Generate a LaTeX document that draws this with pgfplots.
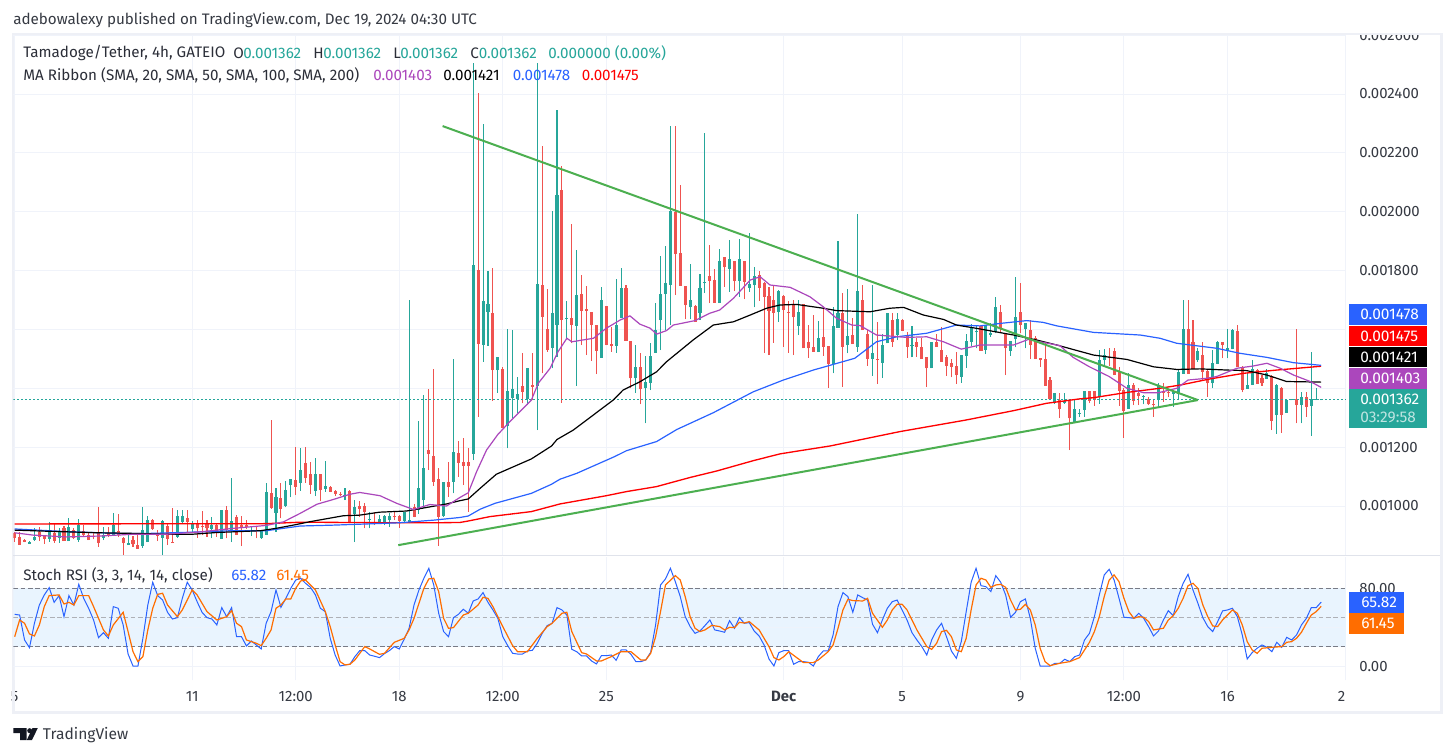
\documentclass[border=0pt]{standalone}
\usepackage{pgfplots}
\usepackage{pgfplotstable}
\usepackage{fontspec}
\setmainfont{Fira Sans}
\pgfplotsset{compat=1.18}
\definecolor{upc}{HTML}{26A69A}
\definecolor{downc}{HTML}{EF5350}
\definecolor{gridc}{HTML}{F0F3FA}
\definecolor{framec}{HTML}{EEF0F6}
\definecolor{sepc}{HTML}{E0E3EB}
\definecolor{txt}{HTML}{131722}
\definecolor{mablue}{HTML}{2962FF}
\definecolor{mapurple}{HTML}{AB47BC}
\definecolor{trendc}{HTML}{4CAF50}
\definecolor{orangeD}{HTML}{FF6D00}
\definecolor{bandc}{HTML}{E9F4FE}
\definecolor{dashc}{HTML}{787B86}
% prices are in millionths of USDT (1362 = 0.001362); x is the candle number from 5 Nov 00:00
\pgfplotstableread{
x o h l c
3 872 880 871 878
4 884 924 882 896
7 888 945 878 918
9 892 925 875 913
11 881 959 881 928
13 885 955 879 935
18 892 928 884 901
20 900 975 898 935
23 867 900 867 873
26 865 996 858 918
27 877 967 877 952
30 892 952 834 949
33 896 986 892 966
34 944 988 939 966
36 922 949 913 939
40 922 962 891 935
42 889 988 889 988
44 916 1095 877 948
48 927 932 899 932
50 891 918 889 916
51 902 1078 901 1047
53 977 1060 913 1030
55 1000 1084 995 1054
56 1071 1092 1029 1092
58 1079 1197 1052 1122
61 1051 1162 1034 1109
63 1058 1153 1049 1068
67 1035 1061 1020 1039
69 974 1020 877 998
72 953 979 924 956
74 941 971 940 956
75 941 969 935 966
76 952 975 930 966
79 948 981 941 981
80 947 1700 941 952
82 986 1290 973 1061
83 1020 1377 992 1129
87 966 1083 964 1083
89 1083 1499 1043 1183
93 1177 2505 1156 1819
95 1547 2298 1490 1697
96 1660 1798 1544 1686
98 1462 1507 1385 1505
100 1272 1600 1196 1391
101 1366 1598 1298 1398
102 1363 1440 1315 1379
104 1362 1468 1343 1468
106 1408 2505 1258 1754
109 1538 2002 1468 1655
110 1615 2346 1507 2057
112 1636 1698 1566 1640
114 1612 1870 1408 1717
119 1504 1743 1504 1700
122 1544 1770 1521 1615
123 1638 1808 1638 1740
126 1434 1547 1385 1471
128 1400 1510 1281 1422
129 1419 1553 1394 1510
130 1521 1689 1521 1598
131 1632 1849 1530 1720
132 1720 1883 1598 1757
133 1751 2291 1615 2002
137 1675 1822 1634 1700
139 1657 1790 1632 1740
140 1757 2269 1723 1762
143 1689 1875 1689 1832
145 1807 1904 1728 1841
147 1766 1906 1711 1841
149 1742 1926 1728 1754
150 1751 1811 1675 1781
155 1660 1734 1626 1732
159 1612 1700 1581 1660
163 1523 1629 1523 1572
166 1482 1675 1451 1612
167 1606 1900 1606 1657
169 1547 1736 1519 1578
171 1541 1992 1524 1731
174 1501 1751 1443 1521
176 1487 1583 1436 1546
177 1553 1655 1553 1655
179 1581 1657 1564 1635
182 1543 1612 1505 1547
186 1468 1558 1468 1558
192 1439 1513 1419 1513
193 1511 1583 1470 1561
194 1558 1618 1544 1604
195 1590 1610 1536 1596
197 1530 1615 1516 1615
198 1582 1623 1575 1589
199 1592 1710 1587 1675
202 1528 1562 1511 1561
203 1566 1777 1539 1641
205 1600 1623 1536 1623
211 1354 1383 1347 1383
213 1351 1385 1348 1357
215 1281 1360 1281 1328
216 1312 1328 1304 1316
217 1326 1391 1304 1391
220 1369 1530 1347 1496
221 1496 1533 1479 1513
226 1330 1451 1330 1411
229 1371 1377 1345 1374
232 1360 1417 1332 1411
235 1381 1388 1338 1386
236 1381 1464 1360 1456
237 1449 1700 1449 1601
240 1496 1536 1490 1527
243 1417 1530 1400 1485
244 1483 1561 1483 1558
246 1528 1600 1502 1536
247 1532 1600 1532 1598
250 1398 1451 1398 1411
251 1411 1496 1411 1464
254 1432 1464 1432 1451
256 1309 1415 1245 1411
258 1317 1360 1317 1360
259 1359 1362 1359 1362
261 1343 1386 1281 1369
263 1340 1524 1239 1362
264 1360 1400 1360 1363
265 1360 1363 1360 1363
}\upT
\pgfplotstableread{
x o h l c
0 909 913 879 892
1 894 913 867 867
2 883 887 876 879
5 911 928 881 893
6 900 901 872 888
8 908 938 875 881
10 924 932 881 881
12 918 924 887 892
14 916 935 896 901
15 900 910 884 884
16 897 913 887 893
17 907 996 862 874
19 909 928 896 898
21 914 973 896 900
22 891 896 834 874
24 884 898 862 870
25 867 905 855 855
28 952 956 918 922
29 907 918 881 899
31 932 938 867 888
32 877 993 874 874
35 958 986 913 944
37 941 952 892 924
38 932 983 901 927
39 939 952 896 924
41 935 938 896 909
43 986 1000 890 918
45 962 969 901 902
46 935 966 864 930
47 934 952 922 927
49 932 933 890 927
52 1043 1292 990 992
54 1027 1079 958 990
57 1088 1200 1037 1066
59 1145 1200 1079 1095
60 1109 1149 1041 1072
62 1109 1109 1017 1054
64 1064 1068 1047 1049
65 1051 1054 1034 1041
66 1041 1046 1033 1037
68 1051 1053 941 943
70 1000 1018 964 990
71 1000 1011 924 981
73 943 978 935 940
77 966 979 952 962
78 966 969 926 948
81 998 1007 961 964
84 1190 1398 1122 1176
85 1170 1464 1068 1082
86 1092 1128 865 964
88 1083 1149 1031 1066
90 1180 1222 1099 1147
91 1149 1230 1071 1136
92 1149 1196 980 1136
94 1802 2404 1303 1550
97 1655 1808 1358 1462
99 1464 1473 1266 1266
103 1408 1519 1349 1388
105 1410 1519 1360 1406
107 1751 2223 1451 1643
108 1600 1736 1524 1530
111 2074 2155 1351 1632
113 1638 1958 1553 1615
115 1719 1785 1547 1664
116 1668 1748 1513 1664
117 1660 1660 1493 1615
118 1615 1615 1448 1527
120 1680 1680 1547 1547
121 1549 1609 1524 1545
124 1740 1751 1561 1561
125 1561 1561 1400 1434
127 1471 1519 1345 1396
134 2000 2291 1717 1856
135 1859 2091 1748 1748
136 1748 1748 1634 1683
138 1680 1683 1626 1626
141 1781 1887 1689 1766
142 1768 1804 1691 1691
144 1847 1847 1745 1811
146 1834 1834 1730 1764
148 1834 1834 1702 1762
151 1785 1800 1698 1742
152 1759 1762 1521 1711
153 1713 1745 1513 1664
154 1700 1748 1555 1657
156 1714 1717 1541 1666
157 1660 1697 1520 1656
158 1686 1700 1513 1641
160 1686 1686 1536 1536
161 1558 1615 1504 1536
162 1540 1649 1524 1524
164 1574 1677 1510 1541
165 1544 1544 1402 1482
168 1657 1723 1405 1541
170 1581 1638 1550 1550
172 1700 1751 1598 1598
173 1584 1598 1476 1501
175 1500 1626 1415 1496
178 1632 1655 1541 1558
180 1632 1634 1596 1596
181 1578 1590 1504 1541
183 1557 1570 1507 1541
184 1541 1572 1499 1499
185 1505 1507 1405 1468
187 1558 1583 1541 1541
188 1530 1609 1490 1490
189 1507 1513 1443 1477
190 1486 1498 1437 1473
191 1477 1524 1415 1445
196 1612 1612 1528 1528
200 1659 1683 1592 1600
201 1583 1583 1445 1536
204 1658 1757 1587 1615
206 1598 1632 1500 1547
207 1570 1578 1499 1499
208 1502 1502 1473 1496
209 1498 1553 1409 1409
210 1428 1437 1362 1362
212 1360 1383 1300 1330
214 1358 1360 1190 1298
218 1391 1391 1349 1358
219 1391 1391 1340 1360
222 1506 1536 1476 1502
223 1527 1536 1445 1445
224 1456 1473 1340 1391
225 1394 1400 1232 1324
227 1411 1417 1343 1358
228 1385 1400 1343 1375
230 1362 1372 1343 1345
231 1347 1362 1304 1343
233 1388 1417 1355 1385
234 1386 1394 1369 1383
238 1601 1700 1449 1449
239 1558 1632 1464 1464
241 1513 1556 1428 1456
242 1460 1466 1372 1417
245 1556 1558 1502 1547
248 1595 1615 1473 1473
249 1473 1476 1386 1394
252 1462 1464 1415 1415
253 1436 1445 1408 1417
255 1443 1445 1258 1290
257 1400 1403 1249 1309
260 1362 1602 1281 1343
262 1369 1386 1304 1338
}\downT
\pgfplotsset{
  wick/.style={draw=none,mark=none,forget plot,error bars/.cd,y dir=plus,y explicit,error mark=none,error bar style={line width=0.8pt,color=#1}},
  body/.style={draw=none,mark=none,forget plot,error bars/.cd,y dir=plus,y explicit,error mark=none,error bar style={line width=2.3pt,color=#1}},
  pane/.style={scale only axis,anchor=south west,width=999.75pt,xmin=-0.284,xmax=270.1,
    axis line style={draw=none},major tick length=0pt,grid=both,grid style={color=gridc,line width=0.75pt},
    xtick={0,36,57,78,99,120,156,180,204,225,246,270},
    tick label style={font=\fontsize{11.2}{13}\selectfont,text=txt!85},
    yticklabel pos=right,
    yticklabel style={anchor=west,xshift=9.6pt,inner xsep=0pt}},
}
\newcommand{\pricetag}[6]{\fill[#1] (1349.3,#2) rectangle (#5,#3);\node[anchor=west,inner sep=0pt,text=white,font=\fontsize{11.6}{13}\selectfont] at (#6,{(#2+#3)/2}) {#4};}
\begin{document}
\begin{tikzpicture}[x=0.75pt,y=-0.75pt]
\useasboundingbox (0,0) rectangle (1453,756);
\fill[white] (0,0) rectangle (1453,756);
\fill[framec] (12,33) rectangle (1443,713.5);
\fill[white] (15,35.5) rectangle (1440,711);
% ---------- price pane
\begin{axis}[pane,at={(9.975pt,-416.25pt)},height=390pt,ymin=833.5,ymax=2600.5,
  xticklabels={},
  ytick={1000,1200,1400,1600,1800,2000,2200,2400,2600},
  yticklabels={0.001000,0.001200,{},{},0.001800,0.002000,0.002200,0.002400,0.002600}]
\addplot[wick=upc] table[x=x,y=l,y error expr=\thisrow{h}-\thisrow{l}] {\upT};
\addplot[wick=downc] table[x=x,y=l,y error expr=\thisrow{h}-\thisrow{l}] {\downT};
\addplot[body=upc] table[x=x,y=o,y error expr=\thisrow{c}-\thisrow{o}] {\upT};
\addplot[body=downc] table[x=x,y=c,y error expr=\thisrow{o}-\thisrow{c}] {\downT};
% last price
\addplot[upc,line width=0.75pt,dash pattern=on 1pt off 2pt] coordinates {(-0.3,1362)(270.1,1362)};
% SMA 200
\addplot[red,line width=1pt] coordinates {(0,939)(51,940)(58,945)(78,943)(85,943)(90.3,944)(92,949)(96.4,964)(104.8,981)(110.6,1007)(120,1035)(124.1,1049)(130.2,1066)(137,1097)(142.4,1119)(149.8,1154)(155.2,1177)(159.3,1188)(165.4,1204)(179.6,1253)(192.9,1292)(202.6,1324)(209.3,1349)(212,1355)(216,1364)(218.8,1368)(225.6,1386)(232.3,1400)(236.4,1411)(242.5,1432)(249.3,1451)(256,1462)(265,1475)};
% SMA 100
\addplot[mablue,line width=0.9pt] coordinates {(0,922)(10.5,913)(20.7,907)(27.5,907)(34,910)(44,916)(51,916)(57.9,932)(64.6,935)(71.4,939)(78,943)(85,952)(90.3,961)(92,966)(94.4,989)(97.4,1009)(104.8,1043)(108.9,1074)(110.6,1091)(114,1111)(121.7,1168)(124.1,1188)(130.2,1219)(134.3,1260)(141.7,1317)(149.8,1388)(155.9,1428)(159.3,1447)(162,1462)(170.4,1502)(174.8,1558)(178.9,1575)(185,1587)(191,1615)(195.8,1612)(200.2,1621)(205.3,1630)(208.6,1624)(211.4,1612)(218.8,1590)(228.3,1581)(232.3,1570)(235.7,1553)(243.8,1536)(248.5,1519)(254,1505)(259.4,1487)(265,1478)};
% SMA 50
\addplot[black,line width=0.9pt] coordinates {(0,918)(7.2,914)(17,909)(24,907)(30.8,904)(36,904)(41,910)(49.8,916)(53,924)(56.5,935)(60,947)(66.7,967)(70,969)(74,979)(79.5,983)(84.2,997)(87.6,1007)(90.3,1018)(92,1024)(94.4,1060)(97.7,1108)(104.8,1160)(108.9,1204)(110,1226)(113.3,1258)(121.4,1360)(123.4,1394)(126.8,1422)(130.2,1456)(132.2,1490)(137.6,1564)(141.7,1615)(145.8,1626)(149.2,1649)(152.5,1672)(155.2,1683)(158.6,1685)(164,1672)(166.7,1664)(173.5,1660)(177.5,1672)(180.3,1675)(184.3,1649)(188.4,1634)(191,1615)(195,1604)(202.6,1581)(207.3,1564)(211.4,1547)(218.8,1513)(225.6,1498)(231,1473)(235.7,1464)(240.4,1466)(245.9,1462)(249.9,1460)(254,1445)(258,1423)(265,1421)};
% SMA 20
\addplot[mapurple,line width=0.9pt] coordinates {(0,909)(3.8,901)(10.5,895)(17.3,898)(24,904)(30.8,904)(37.6,912)(44.3,924)(51,934)(54.5,946)(57.9,975)(61.3,1006)(64.6,1022)(68,1040)(70,1046)(74.1,1035)(77.5,1009)(80.9,988)(84.2,1005)(87.6,1000)(90.3,1029)(92,1045)(93.7,1117)(95.7,1190)(98,1243)(100.4,1286)(104.8,1360)(106.2,1417)(108.6,1468)(110.2,1524)(112,1570)(113,1558)(117.4,1570)(120,1604)(122.8,1632)(124.8,1646)(126.8,1618)(128.9,1604)(130.2,1584)(132.2,1596)(133.6,1615)(138,1630)(141,1655)(143,1666)(145.8,1706)(149.2,1768)(151.2,1779)(153.2,1751)(157.3,1743)(161.3,1711)(164,1677)(166.7,1638)(169.8,1615)(171.5,1613)(174.8,1581)(180.9,1573)(185,1575)(188.4,1558)(190.4,1544)(192,1533)(195.8,1547)(199.2,1547)(202.6,1547)(205.6,1566)(208,1558)(212,1545)(214.7,1505)(218,1473)(222,1440)(225.6,1400)(229,1385)(232,1385)(235.7,1400)(238,1428)(241.8,1434)(243.8,1440)(247.9,1468)(251.3,1476)(254,1485)(256.7,1468)(259.4,1445)(262.8,1423)(265,1403)};
% trend lines
\addplot[trendc,line width=1.5pt] coordinates {(86.8,2291)(240,1360)};
\addplot[trendc,line width=1.5pt] coordinates {(77.8,867)(240,1360)};
\end{axis}
% ---------- Stoch RSI pane
\begin{axis}[pane,at={(9.975pt,-510pt)},height=92.25pt,ymin=-14.05,ymax=112.1,
  xticklabels={5,11,12:00,18,12:00,25,\textbf{Dec},5,9,12:00,16,20},
  xticklabel style={yshift=-4.5pt,text height=8pt,text depth=0pt},
  ytick={0,40,80},yticklabels={0.00,{},80.00}]
\addplot[bandc,fill=bandc,draw=none] coordinates {(-0.3,20)(270.1,20)(270.1,80)(-0.3,80)} -- cycle;
\addplot[gridc!70!bandc,line width=0.75pt] coordinates {(-0.3,40)(270.1,40)};
\addplot[dashc,line width=0.75pt,dash pattern=on 3.5pt off 2pt] coordinates {(-0.3,80)(270.1,80)};
\addplot[dashc!60,line width=0.75pt,dash pattern=on 3.5pt off 2pt] coordinates {(-0.3,50)(270.1,50)};
\addplot[dashc,line width=0.75pt,dash pattern=on 3.5pt off 2pt] coordinates {(-0.3,20)(270.1,20)};
\addplot[mablue,line width=0.75pt] coordinates {(0,53.3)(1,52.6)(2,27)(3,19.1)(4,44.1)(5,62.9)(6,73.2)(7,80.7)(8,65.6)(9,72.5)(10,50.9)(11,72.5)(12,62.9)(13,84.1)(14,69.7)(15,59.5)(16,47.5)(17,29.4)(18,34.5)(19,28.7)(20,61.2)(21,59.5)(22,42.4)(23,12.6)(24,0.3)(25,0.3)(26,28.7)(27,62.9)(28,86.2)(29,72.5)(30,68)(31,55.4)(32,48.5)(33,49.9)(34,69.7)(35,86.2)(36,78.3)(37,66.3)(38,55.4)(39,49.9)(40,48.5)(41,42.4)(42,60.2)(43,50.9)(44,60.2)(45,30.4)(46,30.4)(47,20.9)(48,26)(49,21.9)(50,17.8)(51,44.1)(52,56.1)(53,78.3)(54,60.5)(55,69.7)(56,80)(57,88.5)(58,90.3)(59,85.1)(60,81)(61,73.2)(62,59.5)(63,56.1)(64,28.7)(65,11.6)(66,0.3)(67,1.4)(68,2.1)(69,9.9)(70,16.1)(71,16.1)(72,11.6)(73,10.3)(74,8.9)(75,13)(76,16.1)(77,20.2)(78,17.8)(79,27.7)(80,39)(81,62.9)(82,78.3)(83,90.3)(84,100.5)(85,83.4)(86,54.4)(87,35.6)(88,30.4)(89,49.9)(90,53.3)(91,58.5)(92,54.4)(93,67)(94,69.1)(95,75.6)(96,65.6)(97,57.8)(98,49.2)(99,30.4)(100,21.2)(101,13.3)(102,12.6)(103,12.6)(104,15.7)(105,16.4)(106,23.6)(107,33.8)(108,41.7)(109,44.1)(110,60.2)(111,57.8)(112,52.6)(113,17.4)(114,15)(115,10.6)(116,10.6)(117,5.5)(118,2.4)(119,10.9)(120,10.9)(121,11.6)(122,6.2)(123,16.8)(124,16.8)(125,12.3)(126,4.8)(127,4.8)(128,6.5)(129,14.4)(130,42.4)(131,83.4)(132,89.6)(133,100.5)(134,86.8)(135,71.5)(136,50.9)(137,40.7)(138,33.8)(139,36.2)(140,41.7)(141,47.5)(142,37.3)(143,36.2)(144,34.9)(145,46.8)(146,39)(147,49.9)(148,44.1)(149,44.8)(150,36.2)(151,31.1)(152,21.9)(153,7.5)(154,0.3)(155,14)(156,16.1)(157,16.1)(158,2.1)(159,4.8)(160,4.8)(161,4.1)(162,0.3)(163,9.9)(164,15.7)(165,15.7)(166,32.1)(167,61.2)(168,75.6)(169,71.5)(170,55.4)(171,73.2)(172,70.4)(173,68)(174,43.1)(175,34.5)(176,47.5)(177,59.5)(178,66.3)(179,68)(180,57.8)(181,47.5)(182,34.5)(183,27)(184,20.2)(185,11.6)(186,27)(187,37.3)(188,44.1)(189,30.4)(190,15.7)(191,8.2)(192,25.3)(193,56)(194,86.2)(195,100.5)(196,82.7)(197,81.7)(198,76.6)(199,93)(200,86.2)(201,73.2)(202,50.3)(203,55.4)(204,66.3)(205,69.1)(206,49.2)(207,18.5)(208,0.3)(209,0.3)(210,0.3)(211,3.1)(212,3.1)(213,7.2)(214,4.8)(215,9.9)(216,11.6)(217,27)(218,33.8)(219,50.9)(220,73.2)(221,93.7)(222,99.5)(223,88.5)(224,69.7)(225,50.3)(226,49.9)(227,49.2)(228,54.4)(229,49.2)(230,40.7)(231,31.1)(232,36.2)(233,47.5)(234,57.1)(235,52)(236,71.5)(237,85.1)(238,94.4)(239,78.3)(240,64.6)(241,49.9)(242,40.7)(243,35.6)(244,45.8)(245,56.8)(246,57.8)(247,59.5)(248,50.9)(249,32.1)(250,7.5)(251,14)(252,18.5)(253,21.9)(254,19.5)(255,15)(256,24.6)(257,19.5)(258,29.7)(259,27)(260,32.1)(261,42.4)(262,49.2)(263,60.2)(264,60.2)(265,65.82)};
\addplot[orangeD,line width=0.9pt] coordinates {(0,30.4)(1,47.5)(2,44.1)(3,33.2)(4,31.1)(5,42.4)(6,61.2)(7,72.5)(9,73.2)(10,63.9)(11,65.6)(12,62.9)(13,72.5)(15,72.5)(16,61.2)(18,37.3)(19,31.1)(20,42.4)(22,55.4)(23,35.6)(24,15)(25,4.8)(26,9.9)(27,37.3)(28,59.5)(29,73.8)(30,74.9)(31,62.9)(33,50.9)(34,57.8)(36,78.3)(37,73.2)(39,56.1)(41,47.5)(43,50.9)(44,57.1)(45,44.1)(46,40.7)(47,27)(49,23.6)(50,21.2)(51,28.7)(52,37.3)(53,59.5)(54,62.9)(55,69.1)(56,69.1)(57,80)(58,87.5)(59,88.5)(61,78.3)(63,56.1)(64,40.7)(65,21.9)(66,4.8)(67,1.4)(68,2.1)(69,6.5)(71,20.2)(72,17.8)(74,12.3)(75,13.3)(77,24.6)(79,28.7)(80,37.3)(81,49.2)(82,64.6)(83,80)(84,89.6)(85,90.3)(86,76.6)(87,49.2)(88,39)(89,39.7)(91,52.6)(92,54.4)(94,62.9)(95,70.8)(96,69.7)(97,61.2)(99,40.7)(101,21.2)(102,15)(104,15)(106,28.7)(108,40.7)(109,44.1)(111,54.4)(112,55.4)(113,35.6)(115,14)(116,12.6)(118,5.5)(119,5.5)(121,9.9)(123,15)(125,15)(127,6.5)(128,6.5)(129,13.3)(130,30.4)(131,56.1)(132,83.4)(134,93)(135,88.5)(136,71.5)(137,50.9)(138,39)(139,35.6)(140,37.3)(141.4,42)(143,40.7)(144,37.3)(145,40)(146,39.7)(147,45.1)(148,44.4)(149,45.8)(151,37.3)(153,20.2)(154,8.9)(155,6.5)(156,9.9)(157,15)(159,7.5)(160,3.8)(162,3.8)(163,6.5)(165,15)(166,21.9)(167,39)(168,57.8)(169,68.7)(170,67.4)(172,67)(173,69.7)(174,54.4)(176,40)(177,47.5)(178,57.8)(179,63.6)(180,63.6)(181,57.8)(183,37.3)(185,20.2)(186,17.4)(187,23.6)(188,35.6)(189,36.9)(190,30.4)(191,16.8)(192,15)(193,28.7)(194,57.8)(195,83.4)(196,90.3)(197,88.5)(198,81)(199,83.4)(200,84.1)(201,81)(202,68)(203,57.8)(204,58.5)(205,63.6)(206,57.8)(207,42.4)(208,18.5)(209,4.8)(210,0.7)(212,3.1)(214,4.8)(216,8.9)(218,24.6)(219,35.6)(220,50.9)(221,71.5)(222,88.5)(223,93.7)(224,86.8)(225,69.7)(226,56.1)(227,49.2)(228,50.9)(229,50.3)(230,45.8)(231,37.3)(233,39)(234,47.5)(235,52)(236,59.5)(237,69.7)(238,82.7)(239,85.1)(240,80)(241,62.9)(242,50.9)(243,41.4)(244,40.7)(245,47.5)(247,57.8)(248,54.4)(249,42.4)(250,25.3)(251,16.8)(252,13.3)(253,18.5)(255,19.5)(257,20.2)(258,24.6)(259,25.3)(260,28.7)(261,34.9)(262,44.1)(263,52.6)(264,56.1)(265,61.45)};
\end{axis}
% pane separator, masks over cut labels
\fill[sepc] (13,554.5) rectangle (1440,556);
\fill[white] (0,0) rectangle (1453,33);
\fill[framec] (12,33) rectangle (1443,35.5);
\fill[framec] (12,681) rectangle (15,711);
\fill[white] (1346,682) rectangle (1358,709);
% price tags
\pricetag{mablue}{304}{324.7}{0.001478}{1426.7}{1360}
\pricetag{red}{326}{346}{0.001475}{1426.7}{1360}
\pricetag{black}{347.3}{367}{0.001421}{1426.7}{1360}
\pricetag{mapurple}{368}{388.7}{0.001403}{1426.7}{1360}
\fill[upc] (1349.3,389) rectangle (1426.7,427.7);
\node[anchor=west,inner sep=0pt,text=white,font=\fontsize{11.6}{13}\selectfont] at (1360,399) {0.001362};
\node[anchor=west,inner sep=0pt,text=white!70!upc,font=\fontsize{11.6}{13}\selectfont] at (1360,417) {03:29:58};
\pricetag{mablue}{592}{613}{65.82}{1404}{1361}
\pricetag{orangeD}{613}{634}{61.45}{1404}{1361}
% texts
\begin{scope}[every node/.style={anchor=west,inner sep=0pt,font=\fontsize{11.4}{13}\selectfont}]
\node[text=txt!85] at (13,20) {adebowalexy published on TradingView.com, Dec 19, 2024 04:30 UTC};
\node[text=txt!90] at (23,53) {Tamadoge/Tether, 4h, GATEIO};
\node[text=txt!90] at (233,53) {O};\node[text=upc] at (243,53) {0.001362};
\node[text=txt!90] at (313,53) {H};\node[text=upc] at (323,53) {0.001362};
\node[text=txt!90] at (393,53) {L};\node[text=upc] at (400,53) {0.001362};
\node[text=txt!90] at (470,53) {C};\node[text=upc] at (478.6,53) {0.001362};
\node[text=upc] at (548,53) {0.000000 (0.00\%)};
\node[text=txt!90] at (23,75) {MA Ribbon (SMA, 20, SMA, 50, SMA, 100, SMA, 200)};
\node[text=mapurple] at (373,75) {0.001403};
\node[text=black] at (443,75) {0.001421};
\node[text=mablue] at (512.5,75) {0.001478};
\node[text=red] at (581.7,75) {0.001475};
\node[text=txt!90] at (23,575.7) {Stoch RSI (3, 3, 14, 14, close)};
\node[text=mablue] at (231,575.7) {65.82};
\node[text=orangeD] at (276,575.7) {61.45};
\node[text=txt!85,font=\fontsize{11.7}{13}\selectfont] at (42.7,735) {TradingView};
\end{scope}
% logo
\fill[txt] (13.3,728) -- (26.5,728) -- (26.5,740) -- (20,740) -- (20,733) -- (13.3,733) -- cycle;
\fill[txt] (29.7,730.7) circle[radius=2.5];
\fill[txt] (32.5,728) -- (37.8,728) -- (32,740) -- (26.8,740) -- cycle;
\end{tikzpicture}
\end{document}
